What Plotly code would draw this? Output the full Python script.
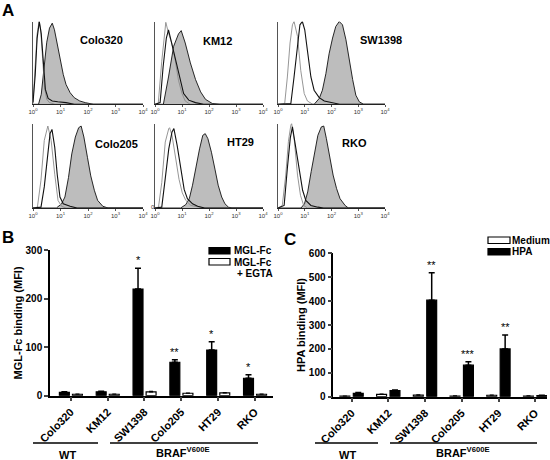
import plotly.graph_objects as go

W, H = 550, 460
FONT = "Arial, 'Liberation Sans', sans-serif"

# ---------------- Panel A data: (log10 fluorescence, % of max count) ----------------
hist_titles = ["Colo320", "KM12", "SW1398", "Colo205", "HT29", "RKO"]
decade_ticks = [0, 1, 2, 3, 4]
decade_labels = ["10<sup>0</sup>", "10<sup>1</sup>", "10<sup>2</sup>", "10<sup>3</sup>", "10<sup>4</sup>"]

colo320_ctrl = [(0, 3), (0.08, 40), (0.15, 85), (0.22, 100), (0.28, 90), (0.35, 55), (0.42, 20), (0.5, 6), (0.6, 2), (0.8, 0), (4, 0)]
colo320_egta = [(0, 2), (0.08, 35), (0.15, 80), (0.23, 100), (0.3, 85), (0.38, 45), (0.45, 18), (0.55, 7), (0.7, 4), (0.9, 3), (1.2, 2), (1.5, 0), (4, 0)]
colo320_mgl = [(0, 0), (0.2, 0), (0.3, 12), (0.4, 40), (0.5, 75), (0.6, 92), (0.7, 98), (0.78, 90), (0.9, 70), (1.0, 52), (1.1, 36), (1.2, 24), (1.35, 14), (1.5, 8), (1.7, 4), (1.9, 2), (2.2, 0), (4, 0)]

km12_ctrl = [(0, 0), (0.12, 1), (0.25, 52), (0.35, 90), (0.4, 99), (0.5, 86), (0.62, 74), (0.75, 53), (0.87, 29), (1.0, 13), (1.12, 4), (1.3, 0), (4, 0)]
km12_egta = [(0, 0), (0.19, 2), (0.3, 45), (0.42, 80), (0.5, 90), (0.62, 74), (0.81, 50), (0.94, 30), (1.06, 13), (1.25, 5), (1.5, 2), (1.8, 0), (4, 0)]
km12_mgl = [(0, 0), (0.31, 0), (0.5, 33), (0.69, 70), (0.87, 85), (0.97, 89), (1.12, 74), (1.31, 50), (1.5, 30), (1.69, 15), (1.87, 6), (2.12, 1), (2.4, 0), (4, 0)]

sw1398_ctrl = [(0, 0), (0.25, 1), (0.35, 33), (0.45, 74), (0.54, 96), (0.6, 100), (0.73, 82), (0.85, 41), (0.98, 13), (1.1, 4), (1.3, 0), (4, 0)]
sw1398_egta = [(0, 0), (0.48, 1), (0.6, 33), (0.73, 74), (0.82, 96), (0.91, 100), (1.0, 90), (1.1, 65), (1.23, 33), (1.35, 17), (1.54, 8), (1.73, 4), (2.0, 2), (2.3, 0), (4, 0)]
sw1398_mgl = [(0, 0), (1.35, 0), (1.54, 7), (1.66, 17), (1.79, 37), (1.91, 61), (2.04, 80), (2.16, 94), (2.29, 100), (2.41, 96), (2.54, 78), (2.66, 54), (2.79, 30), (2.91, 11), (3.04, 3), (3.2, 0), (4, 0)]

colo205_ctrl = [(0, 0), (0.16, 1), (0.29, 33), (0.41, 80), (0.54, 97), (0.66, 80), (0.79, 40), (0.91, 9), (1.04, 2), (1.2, 0), (4, 0)]
colo205_egta = [(0, 0), (0.29, 1), (0.41, 25), (0.54, 64), (0.62, 88), (0.69, 93), (0.79, 72), (0.88, 40), (0.98, 13), (1.1, 5), (1.35, 2), (1.6, 0), (4, 0)]
colo205_mgl = [(0, 0), (0.85, 0), (1.04, 5), (1.16, 13), (1.29, 36), (1.41, 64), (1.54, 84), (1.66, 95), (1.75, 97), (1.85, 84), (1.98, 60), (2.1, 38), (2.23, 21), (2.35, 9), (2.54, 2), (2.73, 0), (4, 0)]

ht29_ctrl = [(0, 0), (0.13, 1), (0.25, 30), (0.38, 78), (0.51, 94), (0.54, 95), (0.63, 86), (0.76, 62), (0.89, 34), (1.01, 18), (1.14, 9), (1.33, 3), (1.58, 1), (1.8, 0), (4, 0)]
ht29_egta = [(0, 0), (0.25, 1), (0.38, 35), (0.51, 70), (0.63, 90), (0.7, 94), (0.82, 74), (0.95, 46), (1.08, 22), (1.2, 11), (1.39, 5), (1.58, 2), (1.84, 0), (4, 0)]
ht29_mgl = [(0, 0), (0.95, 0), (1.14, 4), (1.27, 11), (1.39, 27), (1.52, 50), (1.65, 70), (1.77, 86), (1.86, 88), (1.96, 82), (2.09, 66), (2.22, 46), (2.34, 27), (2.47, 13), (2.59, 5), (2.72, 1), (2.85, 0), (4, 0)]

rko_ctrl = [(0, 0), (0.16, 3), (0.29, 39), (0.39, 79), (0.48, 98), (0.51, 100), (0.61, 80), (0.73, 39), (0.84, 15), (0.96, 3), (1.1, 0), (4, 0)]
rko_egta = [(0, 0), (0.23, 3), (0.35, 47), (0.46, 83), (0.54, 96), (0.67, 72), (0.8, 43), (0.92, 21), (1.04, 9), (1.23, 3), (1.49, 1), (1.7, 0), (4, 0)]
rko_mgl = [(0, 0), (0.86, 0), (0.99, 5), (1.11, 19), (1.24, 43), (1.37, 67), (1.49, 86), (1.62, 96), (1.71, 97), (1.81, 82), (1.94, 60), (2.06, 39), (2.19, 23), (2.32, 11), (2.51, 3), (2.63, 0), (4, 0)]

hist_ctrl = [colo320_ctrl, km12_ctrl, sw1398_ctrl, colo205_ctrl, ht29_ctrl, rko_ctrl]
hist_egta = [colo320_egta, km12_egta, sw1398_egta, colo205_egta, ht29_egta, rko_egta]
hist_mgl = [colo320_mgl, km12_mgl, sw1398_mgl, colo205_mgl, ht29_mgl, rko_mgl]

# ---------------- Panels B and C data ----------------
cell_lines = ["Colo320", "KM12", "SW1398", "Colo205", "HT29", "RKO"]
mgl_fc = [7, 8, 220, 69, 94, 36]
mgl_fc_err = [1, 1, 43, 5, 17, 7]
mgl_fc_egta = [3, 3, 8, 5, 6, 3]
mgl_fc_egta_err = [0.5, 0.5, 1, 0.5, 0.5, 0.5]
b_stars = ["", "", "*", "**", "*", "*"]

hpa_medium = [2, 10, 7, 3, 6, 3]
hpa_medium_err = [0.5, 1, 1, 0.5, 0.5, 0.5]
hpa = [14, 25, 404, 132, 200, 5]
hpa_err = [4, 3, 115, 14, 58, 1]
c_stars = ["", "", "**", "***", "**", ""]

# ---------------- helpers ----------------
def px_x(p):
    return p / W

def px_y(p):
    return 1 - p / H

fig = go.Figure()
layout = dict(
    width=W, height=H, margin=dict(l=0, r=0, t=0, b=0, pad=0, autoexpand=False),
    paper_bgcolor="white", plot_bgcolor="white", showlegend=False,
    font=dict(family=FONT, color="black", size=11),
)
annotations = []
shapes = []

col_x = [(33, 143), (155, 263), (278, 385)]
row_y = [(21.5, 104.3), (123.5, 208.0)]
title_pos = [(101, 40), (217, 41), (381, 40), (116, 144), (240, 142), (354, 143)]

for i in range(6):
    r, c = divmod(i, 3)
    n = i + 1
    xa = "x" if n == 1 else f"x{n}"
    ya = "y" if n == 1 else f"y{n}"
    xk = "xaxis" if n == 1 else f"xaxis{n}"
    yk = "yaxis" if n == 1 else f"yaxis{n}"
    x0, x1 = col_x[c]
    top, bot = row_y[r]
    layout[xk] = dict(domain=[px_x(x0), px_x(x1)], range=[0, 4], anchor=ya,
                      showgrid=False, zeroline=False, showline=True, linecolor="#222", linewidth=1,
                      tickmode="array", tickvals=decade_ticks, ticktext=decade_labels,
                      ticks="outside", ticklen=1.5, tickcolor="#555",
                      tickfont=dict(size=6, color="#333"), fixedrange=True)
    layout[yk] = dict(domain=[px_y(bot), px_y(top)], range=[0, 100], anchor=xa,
                      showgrid=False, zeroline=False, showline=True, linecolor="#555", linewidth=1,
                      showticklabels=False, ticks="", fixedrange=True)
    mx, my = zip(*hist_mgl[i])
    fig.add_trace(go.Scatter(x=mx, y=my, mode="lines", fill="tozeroy", fillcolor="#bdbdbd",
                             line=dict(color="#111", width=0.9), xaxis=xa, yaxis=ya))
    gx, gy = zip(*hist_ctrl[i])
    fig.add_trace(go.Scatter(x=gx, y=gy, mode="lines",
                             line=dict(color="#8a8a8a", width=0.9), xaxis=xa, yaxis=ya))
    ex, ey = zip(*hist_egta[i])
    fig.add_trace(go.Scatter(x=ex, y=ey, mode="lines",
                             line=dict(color="#111", width=1.1), xaxis=xa, yaxis=ya))
    tx, ty = title_pos[i]
    annotations.append(dict(x=px_x(tx), y=px_y(ty), xref="paper", yref="paper", text=f"<b>{hist_titles[i]}</b>",
                            showarrow=False, font=dict(size=11, color="black"), xanchor="center", yanchor="middle"))

annotations.append(dict(x=px_x(149), y=px_y(207), xref="paper", yref="paper", text="0",
                        showarrow=False, font=dict(size=6, color="#333")))

# ---------------- Panel B ----------------
xs = list(range(len(cell_lines)))
bar_w = 0.27
fig.add_trace(go.Bar(x=xs, y=mgl_fc, width=bar_w, offset=-0.31, marker=dict(color="black", line=dict(color="black", width=1.2)),
                     error_y=dict(type="data", array=mgl_fc_err, arrayminus=[0] * 6, symmetric=False,
                                  color="black", thickness=1.5, width=3),
                     xaxis="x7", yaxis="y7"))
fig.add_trace(go.Bar(x=xs, y=mgl_fc_egta, width=bar_w, offset=0.045, marker=dict(color="white", line=dict(color="black", width=1.2)),
                     error_y=dict(type="data", array=mgl_fc_egta_err, arrayminus=[0] * 6, symmetric=False,
                                  color="black", thickness=1.2, width=2),
                     xaxis="x7", yaxis="y7"))
layout["xaxis7"] = dict(domain=[px_x(50), px_x(273)], range=[-0.565, 5.49], anchor="y7",
                        showgrid=False, zeroline=False, showline=True, linecolor="black", linewidth=1.5,
                        tickmode="array", tickvals=xs, ticktext=[f"<b>{c}</b>" for c in cell_lines],
                        tickangle=-45, ticks="outside", ticklen=4, tickwidth=1.5, tickfont=dict(size=11), fixedrange=True)
layout["yaxis7"] = dict(domain=[px_y(395.7), px_y(250.2)], range=[0, 300], anchor="x7",
                        showgrid=False, zeroline=False, showline=True, linecolor="black", linewidth=1.5,
                        tickmode="array", tickvals=[0, 100, 200, 300], ticktext=["<b>0</b>", "<b>100</b>", "<b>200</b>", "<b>300</b>"],
                        ticks="outside", ticklen=4, tickwidth=1.5, tickfont=dict(size=10),
                        title=dict(text="<b>MGL-Fc binding (MFI)</b>", font=dict(size=11), standoff=1), fixedrange=True)
for i, s in enumerate(b_stars):
    if s:
        annotations.append(dict(x=i - 0.31 + bar_w / 2, y=mgl_fc[i] + mgl_fc_err[i], xref="x7", yref="y7", text=s,
                                showarrow=False, font=dict(size=11, color="black"), yanchor="bottom", yshift=0))

# ---------------- Panel C ----------------
fig.add_trace(go.Bar(x=xs, y=hpa_medium, width=bar_w, offset=-0.32, marker=dict(color="white", line=dict(color="black", width=1.2)),
                     error_y=dict(type="data", array=hpa_medium_err, arrayminus=[0] * 6, symmetric=False,
                                  color="black", thickness=1.2, width=2),
                     xaxis="x8", yaxis="y8"))
fig.add_trace(go.Bar(x=xs, y=hpa, width=bar_w, offset=0.045, marker=dict(color="black", line=dict(color="black", width=1.2)),
                     error_y=dict(type="data", array=hpa_err, arrayminus=[0] * 6, symmetric=False,
                                  color="black", thickness=1.5, width=3),
                     xaxis="x8", yaxis="y8"))
layout["xaxis8"] = dict(domain=[px_x(333.3), px_x(547)], range=[-0.5, 5.32], anchor="y8",
                        showgrid=False, zeroline=False, showline=True, linecolor="black", linewidth=1.5,
                        tickmode="array", tickvals=xs, ticktext=[f"<b>{c}</b>" for c in cell_lines],
                        tickangle=-45, ticks="outside", ticklen=4, tickwidth=1.5, tickfont=dict(size=11), fixedrange=True)
layout["yaxis8"] = dict(domain=[px_y(396.7), px_y(253.3)], range=[0, 600], anchor="x8",
                        showgrid=False, zeroline=False, showline=True, linecolor="black", linewidth=1.5,
                        tickmode="array", tickvals=[0, 100, 200, 300, 400, 500, 600],
                        ticktext=[f"<b>{v}</b>" for v in [0, 100, 200, 300, 400, 500, 600]],
                        ticks="outside", ticklen=4, tickwidth=1.5, tickfont=dict(size=10),
                        title=dict(text="<b>HPA binding (MFI)</b>", font=dict(size=11), standoff=1), fixedrange=True)
for i, s in enumerate(c_stars):
    if s:
        annotations.append(dict(x=i + 0.045 + bar_w / 2, y=hpa[i] + hpa_err[i], xref="x8", yref="y8", text=s,
                                showarrow=False, font=dict(size=11, color="black"), yanchor="bottom", yshift=0))

# ---------------- group lines / labels ----------------
for (a, b) in [(33, 98), (110, 258), (315, 378), (390, 537)]:
    shapes.append(dict(type="line", xref="paper", yref="paper", x0=px_x(a), x1=px_x(b), y0=px_y(443), y1=px_y(443),
                       line=dict(color="black", width=1.5)))
for (x, t) in [(67, "WT"), (347, "WT")]:
    annotations.append(dict(x=px_x(x), y=px_y(455), xref="paper", yref="paper", text=f"<b>{t}</b>",
                            showarrow=False, font=dict(size=11, color="black"), xanchor="center", yanchor="middle"))
for x in [183, 463]:
    annotations.append(dict(x=px_x(x), y=px_y(459.8), xref="paper", yref="paper", text="<b>BRAF<sup>V600E</sup></b>",
                            showarrow=False, font=dict(size=11, color="black"), xanchor="center", yanchor="bottom", borderpad=0))

# ---------------- legends ----------------
def rect(x0, x1, y0, y1, fill):
    shapes.append(dict(type="rect", xref="paper", yref="paper", x0=px_x(x0), x1=px_x(x1), y0=px_y(y1), y1=px_y(y0),
                       fillcolor=fill, line=dict(color="black", width=1.2)))

rect(209, 230, 247.5, 254, "black")
rect(209, 230, 258.5, 265, "white")
for (x, y, t) in [(232, 251, "MGL-Fc"), (232, 262, "MGL-Fc"), (235, 273, "+ EGTA")]:
    annotations.append(dict(x=px_x(x), y=px_y(y), xref="paper", yref="paper", text=f"<b>{t}</b>",
                            showarrow=False, font=dict(size=10, color="black"), xanchor="left", yanchor="middle"))
rect(488, 510, 237, 243.5, "white")
rect(488, 510, 248.5, 255, "black")
for (x, y, t) in [(510.5, 240, "Medium"), (510.5, 252, "HPA")]:
    annotations.append(dict(x=px_x(x), y=px_y(y), xref="paper", yref="paper", text=f"<b>{t}</b>",
                            showarrow=False, font=dict(size=10, color="black"), xanchor="left", yanchor="middle",
                            borderpad=0))

# ---------------- panel letters ----------------
for (x, y, t) in [(8, 11, "A"), (8, 237, "B"), (290, 239, "C")]:
    annotations.append(dict(x=px_x(x), y=px_y(y), xref="paper", yref="paper", text=f"<b>{t}</b>",
                            showarrow=False, font=dict(size=17, color="black"), xanchor="center", yanchor="middle"))

layout["annotations"] = annotations
layout["shapes"] = shapes
fig.update_layout(**layout)
fig.write_html("out.html", config={"displayModeBar": False},
               post_script="document.body.style.margin='0';document.body.style.overflow='hidden';")
